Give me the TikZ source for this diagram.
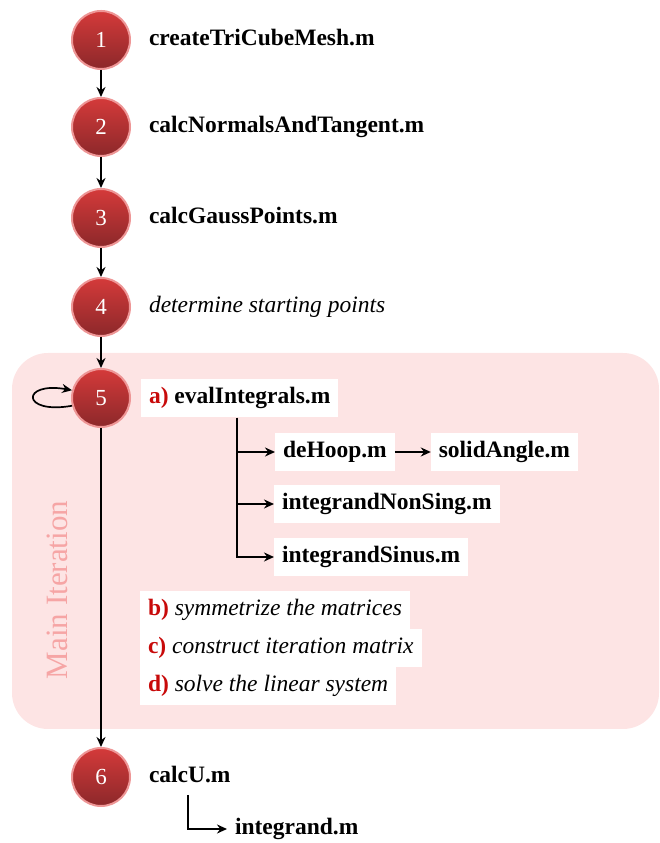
\documentclass[tikz,border=0pt]{standalone}
\usepackage{fontspec}
\setmainfont{Liberation Serif}
\usetikzlibrary{positioning,arrows.meta}
\definecolor{stepred}{RGB}{212,58,58}
\definecolor{stepdark}{RGB}{140,40,42}
\definecolor{stepring}{RGB}{238,150,150}
\definecolor{tagred}{RGB}{200,10,10}
\definecolor{iterpink}{RGB}{253,228,228}
\definecolor{itertext}{RGB}{246,165,165}
\newcommand{\itemtag}[1]{\textcolor{tagred}{\upshape\bfseries #1}}
\tikzset{
	stepnode/.style = {circle, draw=stepring, line width=2pt, top color=stepred, bottom color=stepdark, text=white, minimum size=58pt, inner sep=0pt, font=\fontsize{23}{27}\selectfont},
	file/.style     = {fill=white, anchor=west, inner xsep=8pt, inner ysep=0pt, outer sep=0pt, text height=16pt, text depth=5pt, minimum height=38pt, font=\fontsize{23.5}{28}\selectfont\bfseries},
	task/.style     = {file, font=\fontsize{23.5}{28}\selectfont\itshape},
	fork/.style     = {coordinate},
}

\begin{document}
\begin{tikzpicture}[x=1pt, y=1pt, >={Stealth[length=10pt, width=9pt]}, line width=1.7pt]
		\useasboundingbox (0,0) rectangle (659,843);
		
		% Background of the main iteration
		\fill[iterpink, rounded corners=36pt] (12,114) rectangle (659,490);
		\node[rotate=90, text=itertext, font=\fontsize{31}{36}\selectfont] (itlabel) at (57,253) {Main Iteration};
		
		% Draw the steps
		\node[stepnode] (s1) at (101,803) {1};
		\node[stepnode] (s2) at (101,716) {2};
		\node[stepnode] (s3) at (101,625) {3};
		\node[stepnode] (s4) at (101,536) {4};
		\node[stepnode] (s5) at (101,445) {5};
		\node[stepnode] (s6) at (101,66) {6};
		
		% Labels of the steps
		\node[file, right=10pt of s1] (createmesh) {createTriCubeMesh.m};
		\node[file, right=10pt of s2] (normals) {calcNormalsAndTangent.m};
		\node[file, right=10pt of s3] (gauss) {calcGaussPoints.m};
		\node[task, right=10pt of s4] (startpts) {determine starting points};
		\node[file, right=10pt of s5] (evalint) {\itemtag{a)} evalIntegrals.m};
		\node[file, right=10pt of s6] (calcu) {calcU.m};
		
		% Called functions
		\node[file] (dehoop) at (275,391) {deHoop.m};
		\node[file, right=36pt of dehoop] (solidangle) {solidAngle.m};
		\node[file] (nonsing) at (274,339) {integrandNonSing.m};
		\node[file] (sinus) at (274,286) {integrandSinus.m};
		\node[file] (integrand) at (227,14) {integrand.m};
		\node[fork] (evalfork) at (237,425) {};
		\node[fork] (calcufork) at (188,48) {};
		
		% Remaining tasks of the iteration
		\node[task] (symm) at (140,233) {\itemtag{b)} symmetrize the matrices};
		\node[task, below=0pt of symm.south west, anchor=north west] (itmat) {\itemtag{c)} construct iteration matrix};
		\node[task, below=0pt of itmat.south west, anchor=north west] (solve) {\itemtag{d)} solve the linear system};
		
		% Connect everything together
		\draw[->] (s1) -- (s2);
		\draw[->] (s2) -- (s3);
		\draw[->] (s3) -- (s4);
		\draw[->] (s4) -- (s5);
		\draw[->] (s5) -- (s6);
		\draw[->] (s5.195) .. controls +(190:52) and +(170:52) .. (s5.165);
		
		\draw[->] (evalfork) |- (dehoop);
		\draw[->] (evalfork) |- (nonsing);
		\draw[->] (evalfork) |- (sinus);
		\draw[->] (dehoop) -- (solidangle);
		\draw[->] (calcufork) |- (integrand);
	\end{tikzpicture}
\end{document}
